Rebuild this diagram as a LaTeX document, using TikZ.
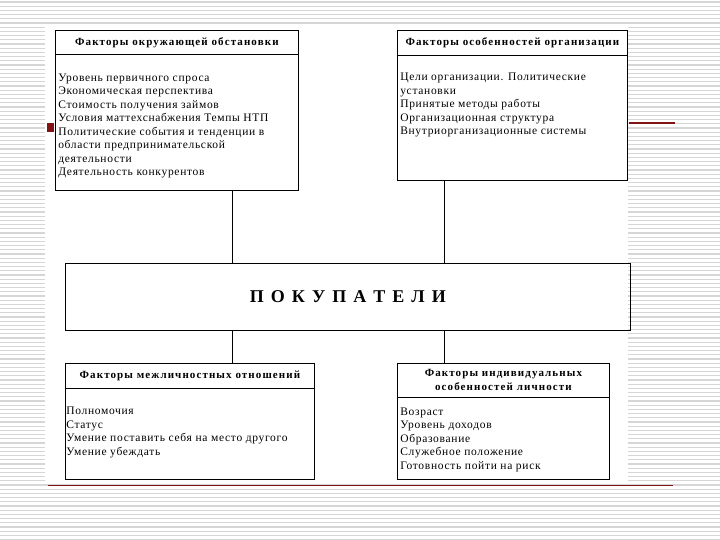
\documentclass[tikz,border=0pt]{standalone}
\usepackage{fontspec}
\setmainfont{Liberation Serif}
\usetikzlibrary{positioning}
\tikzstyle{every picture}=[semithick,x=1pt,y=-1pt]
\definecolor{darkred}{rgb}{0.5,0.08,0.08}
\tikzstyle{factor}=[draw,thick,anchor=north west,inner sep=0]
\tikzstyle{head}=[draw,thick,anchor=north,align=center,inner sep=0,
    font=\bfseries\fontsize{11}{14}\selectfont\addfontfeature{LetterSpace=10}]
\tikzstyle{items}=[align=left,inner sep=0,
    font=\fontsize{11.5}{13.5}\selectfont\addfontfeature{LetterSpace=6}]

\begin{document}
\begin{tikzpicture}
            \useasboundingbox (0,0) rectangle (720,540);
            \foreach \y in {2,6.2,...,540}
                \draw[black!16,line width=1.3] (0,\y) -- (720,\y);
            \fill[white] (45,25) rectangle (628,483);
            \draw[darkred,line width=1.3] (48,485.5) -- (673,485.5);
            \draw[darkred,line width=1.3] (629,123) -- (675,123);
            \fill[darkred] (47,123) rectangle (54,132);

            \coordinate (lx) at (232,0);
            \coordinate (rx) at (444,0);

            \node[factor,minimum width=243,minimum height=160] (env) at (55,30) {};
            \node[head,minimum width=243,minimum height=24] (envhead) at (env.north)
                {Факторы окружающей обстановки};
            \node[items,below right=18.5pt and 3pt of envhead.south west] (envlist)
                {Уровень первичного спроса\\
                 Экономическая перспектива\\
                 Стоимость получения займов\\
                 Условия маттехснабжения Темпы НТП\\
                 Политические события и тенденции в\\
                 области предпринимательской\\
                 деятельности\\
                 Деятельность конкурентов};

            \node[factor,minimum width=230,minimum height=150] (org) at (397,30) {};
            \node[head,minimum width=230,minimum height=25] (orghead) at (org.north)
                {Факторы особенностей организации};
            \node[items,below right=17pt and 3pt of orghead.south west] (orglist)
                {Цели организации. Политические\\
                 установки\\
                 Принятые методы работы\\
                 Организационная структура\\
                 Внутриорганизационные системы};

            \node[factor,minimum width=565,minimum height=67] (buyers) at (65,263)
                {};
            \node[font=\bfseries\fontsize{18}{20}\selectfont\addfontfeature{LetterSpace=14}]
                (buyerstext) at (buyers.center) {П О К У П А Т Е Л И};

            \node[factor,minimum width=249,minimum height=116] (pers) at (65,363) {};
            \node[head,minimum width=249,minimum height=25] (pershead) at (pers.north)
                {Факторы межличностных отношений};
            \node[items,below right=18pt and 1pt of pershead.south west] (perslist)
                {Полномочия\\
                 Статус\\
                 Умение поставить себя на место другого\\
                 Умение убеждать};

            \node[factor,minimum width=212,minimum height=116] (indiv) at (397,363) {};
            \node[head,minimum width=212,minimum height=34] (indivhead) at (indiv.north)
                {Факторы индивидуальных\\особенностей личности};
            \node[items,below right=9.5pt and 3pt of indivhead.south west] (indivlist)
                {Возраст\\
                 Уровень доходов\\
                 Образование\\
                 Служебное положение\\
                 Готовность пойти на риск};

            \draw[thick] (env.south -| lx) -- (buyers.north -| lx);
            \draw[thick] (org.south -| rx) -- (buyers.north -| rx);
            \draw[thick] (buyers.south -| lx) -- (pers.north -| lx);
            \draw[thick] (buyers.south -| rx) -- (indiv.north -| rx);
        \end{tikzpicture}
\end{document}
